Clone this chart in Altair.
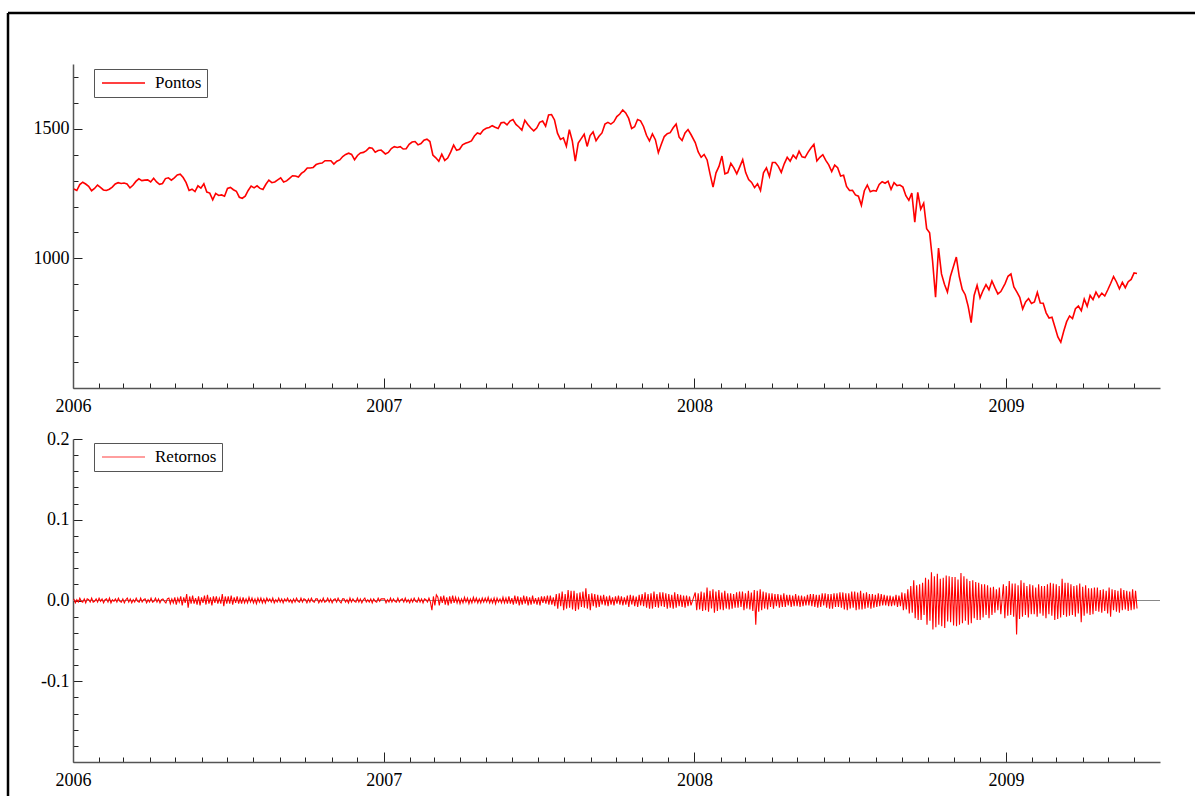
import altair as alt
import pandas as pd

# ---------------- data ----------------
# Pontos (index level), roughly two readings per week
pontos_2006 = [1268,
    1262, 1285, 1294, 1287, 1278, 1261, 1270, 1283, 1274, 1264, 1262, 1267, 1275, 1287, 1292, 1289,
    1291, 1287, 1272, 1282, 1297, 1307, 1300, 1302, 1303, 1295, 1309, 1295, 1286, 1289, 1308, 1311,
    1302, 1311, 1322, 1325, 1312, 1292, 1262, 1267, 1258, 1280, 1271, 1288, 1256, 1252, 1226, 1251,
    1243, 1245, 1240, 1270, 1274, 1265, 1259, 1236, 1232, 1240, 1262, 1279, 1272, 1280, 1270, 1266,
    1286, 1302, 1292, 1295, 1303, 1311, 1295, 1299, 1309, 1319, 1318, 1314, 1328, 1336, 1349, 1349,
    1351, 1362, 1366, 1368, 1377, 1377, 1377, 1364, 1375, 1380, 1393, 1401, 1406, 1401, 1381, 1397,
    1407, 1409, 1416, 1427, 1425, 1410, 1416, 1418]
pontos_2007 = [
    1403, 1409, 1424, 1431, 1428, 1431, 1422, 1423, 1440, 1449, 1451, 1438, 1443, 1456, 1460, 1451,
    1399, 1388, 1375, 1402, 1378, 1387, 1410, 1437, 1417, 1421, 1438, 1444, 1448, 1453, 1472, 1484,
    1480, 1495, 1502, 1505, 1512, 1506, 1501, 1523, 1525, 1515, 1530, 1536, 1517, 1507, 1495, 1533,
    1517, 1503, 1492, 1503, 1525, 1530, 1510, 1553, 1555, 1534, 1483, 1459, 1465, 1433, 1497, 1453,
    1375, 1445, 1462, 1479, 1432, 1474, 1488, 1454, 1471, 1484, 1518, 1525, 1518, 1527, 1547, 1557,
    1573, 1561, 1540, 1501, 1508, 1536, 1531, 1509, 1475, 1453, 1480, 1458, 1408, 1440, 1470, 1481,
    1485, 1504, 1518, 1468, 1455, 1484, 1497, 1478]
pontos_2008 = [
    1447, 1411, 1390, 1401, 1380, 1325, 1275, 1330, 1355, 1395, 1326, 1331, 1367, 1349, 1326, 1353,
    1381, 1331, 1304, 1293, 1273, 1288, 1262, 1330, 1349, 1316, 1370, 1370, 1355, 1332, 1365, 1390,
    1375, 1398, 1385, 1414, 1392, 1389, 1409, 1426, 1440, 1376, 1390, 1400, 1378, 1361, 1335, 1360,
    1350, 1318, 1321, 1278, 1262, 1263, 1245, 1240, 1205, 1261, 1283, 1257, 1262, 1260, 1285, 1296,
    1290, 1298, 1266, 1292, 1281, 1283, 1275, 1242, 1224, 1252, 1140, 1255, 1190, 1213, 1115, 1099,
    990, 850, 1040, 940, 900, 870, 930, 968, 1005, 930, 880, 860, 815, 752, 857, 896,
    848, 876, 899, 879, 913, 887, 863, 872]
pontos_2009 = [
    903, 931, 940, 890, 871, 850, 805, 832, 845, 826, 832, 869, 828, 827, 790, 770,
    773, 735, 697, 677, 719, 756, 778, 768, 806, 816, 798, 843, 815, 857, 841, 870,
    850, 866, 855, 878, 903, 930, 909, 883, 908, 887, 910, 919, 944, 942]

# Retornos, in thousandths (per mille), roughly four readings per week
retornos_2006 = [
    2, -3, 1, -2, 3, -1, -2, 2, -3, 2, 1, -2, 3, -2, -1, 2,
    -2, 3, -1, 2, -3, 1, 2, -2, 3, -3, 1, -1, 2, -2, 3, -1,
    -2, 2, -3, 1, 3, -2, 2, -3, 1, -2, 3, -1, -2, 3, -2, 1,
    2, -3, 1, -2, 3, -2, -1, 3, -2, 2, -3, 1, 2, -1, -3, 2,
    3, -4, 2, -3, 4, -5, 3, -2, 5, -6, 4, -3, 8, -9, 5, -4,
    6, -4, 3, -5, 5, -6, 4, -3, 6, -5, 7, -4, 4, -6, 5, -3,
    5, -4, 3, -4, 8, -7, 5, -4, 5, -4, 6, -5, 4, -3, 5, -4,
    3, -4, 4, -3, 2, -3, 4, -2, 3, -3, 2, -4, 3, -2, 3, -3,
    2, -3, 3, -1, 2, -2, 3, -3, 1, -2, 3, -2, 2, -3, 2, -1,
    3, -2, 1, -3, 2, -2, 3, -1, -2, 3, -2, 2, 1, -3, 2, -2,
    3, -1, -2, 2, 2, -3, 1, -2, 3, -2, -1, 3, -2, 2, -3, 1,
    2, -2, 3, -1, -3, 2, 2, -2, 1, -3, 3, -2, 2, -1, -2, 3,
    -2, 2, -3, 1, 3, -2, 1, -2, 2, -3, 2, -1, -2, 3, -1, 2]
retornos_2007 = [
    2, -3, 1, -2, 3, -2, 2, -1, -2, 3, -2, 1, 2, -2, 3, -2,
    1, -3, 2, -2, 3, -1, -2, 3, -2, 2, -3, 2, 1, -2, 3, -2,
    -12, 5, -6, 7, 4, -6, 5, -3, 6, -5, 4, -6, 5, -4, 6, -3,
    4, -3, 3, -4, 2, -3, 4, -2, 3, -4, 2, -3, 4, -2, 3, -3,
    2, -3, 3, -2, 3, -2, 4, -3, 2, -3, 3, -4, 3, -2, 2, -3,
    4, -3, 3, -4, 5, -4, 3, -5, 6, -4, 5, -6, 4, -5, 6, -4,
    5, -6, 4, -5, 6, -4, 3, -5, 4, -6, 5, -3, 5, -4, 6, -5,
    6, -5, 4, -7, 8, -10, 9, -7, 11, -12, 8, -10, 13, -9, 12, -11,
    12, -13, 9, -11, 10, -8, 11, -9, 15, -10, 8, -12, 9, -7, 8, -9,
    7, -8, 6, -5, 7, -6, 5, -7, 6, -5, 4, -6, 5, -4, 6, -5,
    5, -6, 4, -5, 6, -8, 7, -5, 6, -7, 5, -8, 7, -6, 8, -7,
    10, -9, 8, -10, 9, -10, 11, -8, 8, -9, 10, -7, 10, -8, 9, -10,
    8, -9, 7, -10, 10, -9, 8, -7, 7, -8, 6, -9, 6, -7, 5, -6]
retornos_2008 = [
    10, -12, 9, -11, 11, -13, 10, -12, 16, -14, 12, -10, 14, -15, 11, -13,
    13, -11, 10, -12, 12, -10, 9, -11, 9, -10, 8, -9, 10, -9, 11, -8,
    11, -12, 9, -10, 12, -11, 10, -13, 13, -30, 12, -14, 14, -12, 11, -10,
    10, -11, 9, -8, 9, -10, 8, -7, 8, -9, 7, -8, 9, -8, 7, -6,
    7, -8, 6, -7, 8, -7, 6, -8, 6, -7, 5, -6, 7, -6, 8, -7,
    8, -8, 7, -9, 7, -8, 9, -6, 9, -9, 8, -10, 8, -10, 9, -8,
    9, -8, 10, -9, 10, -11, 9, -12, 9, -10, 11, -9, 11, -12, 10, -11,
    12, -11, 9, -10, 10, -9, 8, -10, 8, -9, 7, -8, 9, -7, 8, -6,
    7, -6, 6, -7, 6, -7, 5, -6, 7, -8, 6, -7, 10, -12, 9, -11,
    14, -16, 18, -15, 25, -22, 19, -24, 20, -24, 22, -18, 28, -30, 26, -25,
    35, -36, 30, -33, 33, -30, 27, -32, 28, -34, 31, -26, 30, -27, 29, -31,
    29, -32, 26, -30, 34, -28, 30, -25, 27, -30, 24, -28, 25, -22, 23, -24,
    22, -24, 20, -21, 20, -18, 19, -22, 16, -18, 17, -15, 14, -12, 16, -17]
retornos_2009 = [
    20, -22, 18, -19, 24, -18, 21, -20, 21, -42, 19, -23, 25, -20, 22, -18,
    18, -21, 20, -17, 19, -17, 16, -20, 20, -16, 18, -19, 18, -22, 20, -17,
    22, -19, 21, -24, 20, -23, 18, -21, 27, -18, 22, -20, 22, -19, 20, -18,
    18, -20, 19, -16, 21, -27, 17, -19, 19, -16, 15, -18, 15, -17, 16, -13,
    16, -14, 13, -15, 14, -13, 12, -16, 16, -20, 14, -12, 13, -14, 12, -15,
    15, -12, 13, -11, 12, -13, 11, -12, 14, -11, 12, -10]

# date span covered by each yearly block
periodos_pontos = [("2006-01-02", "2006-12-29"), ("2007-01-03", "2007-12-28"),
                   ("2008-01-02", "2008-12-26"), ("2008-12-31", "2009-06-04")]
periodos_ret = [("2006-01-02", "2006-12-29"), ("2007-01-02", "2007-12-28"),
                ("2008-01-02", "2008-12-26"), ("2008-12-29", "2009-06-04")]


def bloco(valores, inicio, fim, escala=1.0):
    return pd.DataFrame({
        "data": pd.date_range(inicio, fim, periods=len(valores)),
        "valor": [v * escala for v in valores],
    })


df_pontos = pd.concat(
    [bloco(v, a, b) for v, (a, b) in zip([pontos_2006, pontos_2007, pontos_2008, pontos_2009], periodos_pontos)],
    ignore_index=True)
df_pontos["serie"] = "Pontos"
df_ret = pd.concat(
    [bloco(v, a, b, 0.001) for v, (a, b) in zip([retornos_2006, retornos_2007, retornos_2008, retornos_2009], periodos_ret)],
    ignore_index=True)
df_ret["serie"] = "Retornos"

# ---------------- styling ----------------
FONT = "Liberation Serif"
W, H1, H2 = 1087, 324, 323

x_ticks = [alt.DateTime(year=y, month=m, date=1)
           for y in range(2006, 2010) for m in range(1, 13) if (y, m) <= (2009, 6)]
x_scale = alt.Scale(domain=[alt.DateTime(year=2006, month=1, date=1),
                            alt.DateTime(year=2009, month=7, date=1)], nice=False)


def x_axis():
    return alt.Axis(
        title=None, values=x_ticks, grid=False, labelOverlap=False, labelFlush=False,
        labelExpr="month(datum.value) === 0 ? timeFormat(datum.value, '%Y') : ''",
        tickSize={"condition": {"test": "month(datum.value) === 0", "value": -10}, "value": -5},
        labelPadding=19,
    )


y_axis_top = alt.Axis(
    title=None, values=list(range(600, 1800, 100)), grid=False, format="d", labelOverlap=False,
    labelExpr="datum.value % 500 === 0 ? datum.label : ''",
    tickSize={"condition": {"test": "datum.value % 500 === 0", "value": -9}, "value": -5},
    labelPadding=13,
)

# bottom y axis: ticks every 0.02, labels every 0.1
ret_ticks = [round(v / 100, 2) for v in range(-18, 21, 2)]
major_test = "abs(round(datum.value * 100)) % 10 === 0"
ret_scale = alt.Scale(domain=[-0.2, 0.2], nice=False, zero=False)


def y_axis_bot():
    return alt.Axis(
        title=None, values=ret_ticks, grid=False, labelOverlap=False, labelFlush=False,
        labelExpr="(" + major_test + ") ? replace(format(datum.value, '.1f'), '\u2212', '-') : ''",
        tickSize={"condition": {"test": major_test, "value": -9}, "value": -5},
        labelPadding=13,
    )


def legenda(x, y, opac):
    return alt.Legend(
        title=None, orient="none", legendX=x, legendY=y,
        symbolType="stroke", symbolSize=1849, symbolStrokeWidth=1.5, symbolOpacity=opac,
        clipHeight=18, padding=5, symbolOffset=2, labelOffset=9,
        labelFont=FONT, labelFontSize=17, labelColor="black",
        strokeColor="#555", fillColor="white",
    )


# ---------------- top panel ----------------
linha_pontos = alt.Chart(df_pontos).mark_line(strokeWidth=1.6).encode(
    x=alt.X("data:T", scale=x_scale, axis=x_axis()),
    y=alt.Y("valor:Q", scale=alt.Scale(domain=[500, 1750], nice=False, zero=False), axis=y_axis_top),
    color=alt.Color("serie:N", scale=alt.Scale(domain=["Pontos"], range=["#ff0000"]),
                    legend=legenda(21, 5, 1.0)),
)
moldura = pd.DataFrame({"k": [0]})
borda_sup = alt.Chart(moldura).mark_rule(color="black", strokeWidth=2.5).encode(
    x=alt.value(-65), x2=alt.value(1122), y=alt.value(-51))
borda_esq = alt.Chart(moldura).mark_rule(color="black", strokeWidth=2.5).encode(
    x=alt.value(-65), y=alt.value(-51), y2=alt.value(732))
topo = alt.layer(borda_sup, borda_esq, linha_pontos).properties(width=W, height=H1)

# ---------------- bottom panel ----------------
linha_ret = alt.Chart(df_ret).mark_line(strokeWidth=1.1).encode(
    x=alt.X("data:T", scale=x_scale, axis=x_axis()),
    y=alt.Y("valor:Q", scale=ret_scale, axis=y_axis_bot()),
    color=alt.Color("serie:N", scale=alt.Scale(domain=["Retornos"], range=["#ff0000"]),
                    legend=legenda(21, 4, 0.5)),
)
zero = alt.Chart(pd.DataFrame({"valor": [0.0]})).mark_rule(color="#888", strokeWidth=1).encode(
    y=alt.Y("valor:Q", scale=ret_scale, axis=y_axis_bot()))
base = alt.layer(zero, linha_ret).properties(width=W, height=H2)

chart = alt.vconcat(topo, base, spacing=51, bounds="flush").resolve_scale(
    color="independent"
).properties(
    padding={"left": 6, "top": 11, "right": 0, "bottom": 0},
    background="white",
).configure_axis(
    labelFont=FONT, labelFontSize=18, labelColor="black",
    domainColor="#555", domainWidth=1.5, tickColor="#222", tickWidth=1,
).configure_view(stroke=None)

chart.save("out.html", embed_options={"renderer": "svg", "actions": False})
